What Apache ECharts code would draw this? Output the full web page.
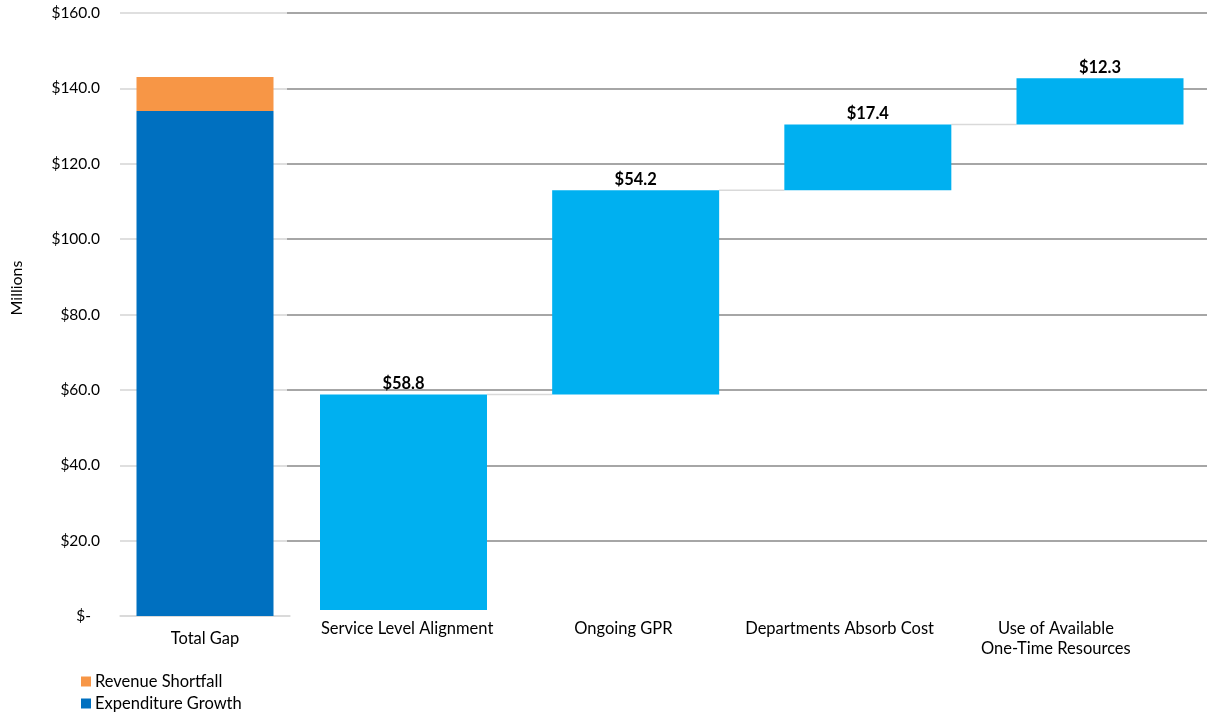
<!DOCTYPE html>
<html>
<head>
<meta charset="utf-8">
<script src="https://cdn.jsdelivr.net/npm/echarts@6/dist/echarts.min.js"></script>
<style>
html,body{margin:0;padding:0;background:#fff;}
#chart{width:1207px;height:712px;}
</style>
</head>
<body>
<div id="chart"></div>
<script>
// ---- data ----
const totalCategory = ['Total Gap'];
const expenditureGrowth = [134.0];
const revenueShortfall = [9.0];
const stepCategories = ['Service Level Alignment', 'Ongoing GPR', 'Departments Absorb Cost', 'Use of Available\nOne-Time Resources'];
const stepValues = [58.8, 54.2, 17.4, 12.3];
const stepStart = [1.6, 58.8, 113.0, 130.4];
const stepEnd = [58.8, 113.0, 130.4, 142.7];
const yTicks = [0, 20, 40, 60, 80, 100, 120, 140, 160];

const FONT = 'Lato, "Open Sans", sans-serif';
const chart = echarts.init(document.getElementById('chart'));

const yFmt = v => v === 0 ? '{z|$-}' : '$' + v.toFixed(1);
const yMin = yTicks[0], yMax = yTicks[yTicks.length - 1], yStep = yTicks[1] - yTicks[0];

const stepData = stepCategories.map((c, i) => [i, stepStart[i], stepEnd[i], stepValues[i]]);

const option = {
  animation: false,
  textStyle: { fontFamily: FONT },
  grid: [
    { left: 120, top: 13, width: 170, height: 603 },      // total gap
    { left: 403.5, top: 13, width: 696.5, height: 603 },  // waterfall bars (ticks at bar centres)
    { left: 299, top: 13, width: 865, height: 603 },      // category labels
    { left: 287, top: 13, right: 0, height: 603 }         // gridlines
  ],
  xAxis: [
    { type: 'category', gridIndex: 0, data: totalCategory,
      axisTick: { show: false }, axisLine: { show: true, lineStyle: { color: '#d9d9d9', width: 1.5 } },
      axisLabel: { color: '#000', fontSize: 16.5, fontFamily: FONT, margin: 14 } },
    { type: 'category', gridIndex: 1, data: stepCategories, boundaryGap: false,
      axisTick: { show: false }, axisLine: { show: false }, axisLabel: { show: false } },
    { type: 'category', gridIndex: 2, data: stepCategories,
      axisTick: { show: false }, axisLine: { show: false },
      axisLabel: { color: '#000', fontSize: 16.5, fontFamily: FONT, margin: 3, lineHeight: 20, interval: 0 } },
    { type: 'value', gridIndex: 3, min: 0, max: 1, show: false }
  ],
  yAxis: [
    { type: 'value', gridIndex: 0, min: yMin, max: yMax, interval: yStep,
      axisLine: { show: false }, axisTick: { show: false },
      axisLabel: { color: '#000', fontSize: 15.5, fontFamily: FONT, margin: 20, formatter: yFmt,
        rich: { z: { fontSize: 15.5, fontFamily: FONT, color: '#000', padding: [0, 9, 0, 0] } } },
      splitLine: { show: true, lineStyle: { color: '#d4d4d4', width: 1.5 } } },
    { type: 'value', gridIndex: 1, min: yMin, max: yMax, interval: yStep, show: false,
      splitLine: { show: false } },
    { type: 'value', gridIndex: 2, min: yMin, max: yMax, interval: yStep, show: false,
      splitLine: { show: false } },
    { type: 'value', gridIndex: 3, min: yMin, max: yMax, interval: yStep,
      axisLine: { show: false }, axisTick: { show: false }, axisLabel: { show: false },
      splitLine: { show: true, showMinLine: false, lineStyle: { color: '#a6a6a6', width: 2 } } }
  ],
  legend: {
    orient: 'vertical', left: 76, top: 668, height: 44,
    itemWidth: 10, itemHeight: 10, itemGap: 5, icon: 'rect',
    textStyle: { color: '#000', fontSize: 16.5, fontFamily: FONT, padding: [0, 0, 0, -1] },
    data: ['Revenue Shortfall', 'Expenditure Growth']
  },
  graphic: [
    { type: 'text', x: 17, y: 288, rotation: Math.PI / 2,
      style: { text: 'Millions', fontSize: 16, fontFamily: FONT, fill: '#000', textAlign: 'center', textVerticalAlign: 'middle' } }
  ],
  series: [
    { name: 'Expenditure Growth', type: 'bar', xAxisIndex: 0, yAxisIndex: 0, stack: 'total',
      barWidth: 137, data: expenditureGrowth, itemStyle: { color: '#0070C0' } },
    { name: 'Revenue Shortfall', type: 'bar', xAxisIndex: 0, yAxisIndex: 0, stack: 'total',
      barWidth: 137, data: revenueShortfall, itemStyle: { color: '#F79646' } },
    { name: 'Steps', type: 'custom', xAxisIndex: 1, yAxisIndex: 1,
      encode: { x: 0, y: [1, 2] },
      clip: false,
      data: stepData,
      renderItem: function (params, api) {
        const idx = api.value(0);
        const lo = api.coord([idx, api.value(1)]);
        const hi = api.coord([idx, api.value(2)]);
        const band = api.size([1, 0])[0];
        const w = 167;
        const children = [
          { type: 'rect', shape: { x: lo[0] - w / 2, y: hi[1], width: w, height: lo[1] - hi[1] },
            style: { fill: '#00B0F0' } },
          { type: 'text', x: hi[0], y: hi[1] - 2,
            style: { text: '$' + api.value(3).toFixed(1), fontSize: 16.5, fontWeight: 'bold', fontFamily: FONT,
              fill: '#000', textAlign: 'center', textVerticalAlign: 'bottom' } }
        ];
        if (idx < stepCategories.length - 1) {
          children.unshift({ type: 'line',
            shape: { x1: lo[0] + w / 2, y1: hi[1], x2: lo[0] + band - w / 2, y2: hi[1] },
            style: { stroke: '#d9d9d9', lineWidth: 1.5 } });
        }
        return { type: 'group', children: children };
      }
    }
  ]
};
chart.setOption(option);
</script>
</body>
</html>
